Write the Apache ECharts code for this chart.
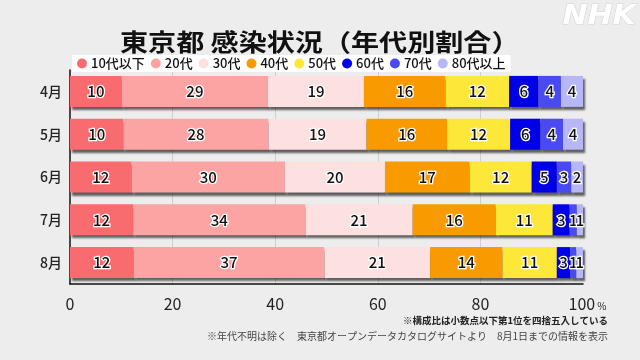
<!DOCTYPE html>
<html>
<head>
<meta charset="utf-8">
<script src="https://cdn.jsdelivr.net/npm/echarts@6/dist/echarts.min.js"></script>
<style>
html,body{margin:0;padding:0;background:#ededee;}
#c{width:640px;height:360px;}
</style>
</head>
<body>
<div id="c"></div>
<script>
const months = ['4月', '5月', '6月', '7月', '8月'];
const ageGroups = ['10代以下', '20代', '30代', '40代', '50代', '60代', '70代', '80代以上'];
const age10 = [10.1, 10.4, 12.0, 12.3, 12.4];
const age20 = [28.5, 28.3, 29.9, 33.6, 37.2];
const age30 = [18.7, 19.1, 19.5, 20.9, 20.6];
const age40 = [15.9, 15.7, 16.5, 16.2, 14.1];
const age50 = [12.4, 12.3, 12.1, 11.1, 10.6];
const age60 = [5.7, 5.9, 4.9, 3.3, 2.6];
const age70 = [4.4, 4.4, 2.8, 1.4, 1.2];
const age80 = [4.3, 3.9, 2.3, 1.2, 1.3];
const xTicks = [0, 20, 40, 60, 80, 100];
const titleText = '東京都 感染状況（年代別割合）';
const note1 = '※構成比は小数点以下第1位を四捨五入している';
const note2 = '※年代不明は除く　東京都オープンデータカタログサイトより　8月1日までの情報を表示';

const seriesData = [age10, age20, age30, age40, age50, age60, age70, age80];
const colors = ['#f86b6e', '#fca3a3', '#fde1e1', '#f99b00', '#fde83a', '#0000e6', '#4a4af2', '#b7b7f7'];
const FONT = '"Noto Sans CJK JP", "Noto Sans", sans-serif';

const chart = echarts.init(document.getElementById('c'), null, {renderer: 'canvas'});

const series = ageGroups.map((name, i) => ({
  name: name,
  type: 'bar',
  stack: 'total',
  barWidth: 31,
  data: seriesData[i],
  itemStyle: {
    color: colors[i],
    shadowColor: 'rgba(0,0,0,0.6)',
    shadowBlur: 2,
    shadowOffsetX: 2,
    shadowOffsetY: 3
  },
  label: {
    show: true,
    position: 'inside',
    formatter: p => String(Math.round(p.value)),
    color: '#111',
    fontSize: 15,
    fontFamily: FONT,
    fontWeight: 500,
    textBorderColor: '#fff',
    textBorderWidth: 2.5
  },
  emphasis: {disabled: true},
  animation: false
}));

chart.setOption({
  backgroundColor: '#ededee',
  animation: false,
  textStyle: {fontFamily: FONT},
  legend: {
    data: ageGroups,
    left: 72,
    top: 55,
    backgroundColor: '#ffffff',
    padding: [2, 5],
    itemGap: 6,
    itemWidth: 10,
    itemHeight: 10,
    icon: 'circle',
    selectedMode: false,
    textStyle: {fontSize: 13, color: '#111', fontFamily: FONT, fontWeight: 500, padding: [0, 0, 0, -1]}
  },
  grid: {left: 70, right: 57, top: 70, bottom: 76, containLabel: false},
  xAxis: {
    type: 'value',
    min: 0,
    max: 100,
    interval: 20,
    axisLine: {show: true, lineStyle: {color: '#111', width: 1.5}},
    axisTick: {show: false},
    splitLine: {show: true, showMinLine: false, showMaxLine: false, lineStyle: {color: '#cfcfd2', width: 1}},
    axisLabel: {
      margin: 12,
      fontSize: 16,
      color: '#222',
      fontFamily: FONT,
      formatter: v => v === 100 ? '{s|}{a|100}{p|%}' : String(v),
      rich: {
        s: {width: 9},
        a: {fontSize: 16, color: '#222', fontFamily: FONT},
        p: {fontSize: 10, color: '#222', fontFamily: FONT, padding: [4, 0, 0, 2]}
      }
    }
  },
  yAxis: {
    type: 'category',
    data: months,
    inverse: true,
    axisLine: {show: true, lineStyle: {color: '#111', width: 1.5}},
    axisTick: {show: false},
    axisLabel: {fontSize: 14, color: '#222', margin: 8, fontFamily: FONT, fontWeight: 500}
  },
  series: series,
  graphic: [
    {
      type: 'text',
      left: 120,
      top: 30,
      scaleX: 1.17,
      style: {text: titleText, fontSize: 24, fontWeight: 'bold', fill: '#111', fontFamily: FONT}
    },
    {
      type: 'text',
      right: 32,
      top: 316,
      style: {text: note1, fontSize: 9.5, fontWeight: 'bold', fill: '#222', fontFamily: FONT}
    },
    {
      type: 'text',
      right: 32,
      top: 331,
      style: {text: note2, fontSize: 10, fill: '#444', fontFamily: FONT}
    },
    {
      type: 'text',
      left: 562,
      top: 4,
      scaleX: 1.15,
      style: {
        text: 'NHK', fontSize: 26, fontWeight: 900, fontStyle: 'italic',
        fill: '#ffffff', stroke: '#d4d4d6', lineWidth: 1, fontFamily: '"DejaVu Sans", sans-serif'
      }
    }
  ]
});
</script>
</body>
</html>
